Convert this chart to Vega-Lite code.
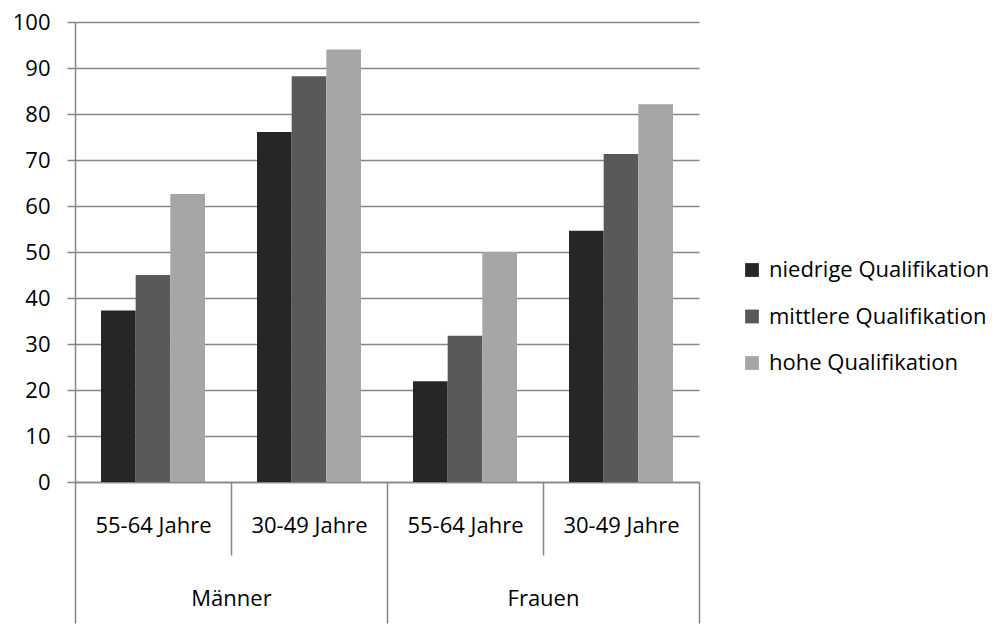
{
  "$schema": "https://vega.github.io/schema/vega-lite/v6.json",
  "width": 624,
  "height": 460,
  "autosize": {"type": "none"},
  "padding": {"left": 75, "top": 22, "right": 300, "bottom": 142},
  "background": "white",
  "config": {"view": {"stroke": null}, "font": "Open Sans"},
  "data": {
    "values": [
      {"cat": "Männer|55-64 Jahre", "gender": "Männer", "qual": "niedrige Qualifikation", "value": 37.3},
      {"cat": "Männer|55-64 Jahre", "gender": "Männer", "qual": "mittlere Qualifikation", "value": 45.0},
      {"cat": "Männer|55-64 Jahre", "gender": "Männer", "qual": "hohe Qualifikation", "value": 62.6},
      {"cat": "Männer|30-49 Jahre", "gender": "Männer", "qual": "niedrige Qualifikation", "value": 76.1},
      {"cat": "Männer|30-49 Jahre", "gender": "Männer", "qual": "mittlere Qualifikation", "value": 88.2},
      {"cat": "Männer|30-49 Jahre", "gender": "Männer", "qual": "hohe Qualifikation", "value": 94.0},
      {"cat": "Frauen|55-64 Jahre", "gender": "Frauen", "qual": "niedrige Qualifikation", "value": 21.9},
      {"cat": "Frauen|55-64 Jahre", "gender": "Frauen", "qual": "mittlere Qualifikation", "value": 31.8},
      {"cat": "Frauen|55-64 Jahre", "gender": "Frauen", "qual": "hohe Qualifikation", "value": 50.0},
      {"cat": "Frauen|30-49 Jahre", "gender": "Frauen", "qual": "niedrige Qualifikation", "value": 54.6},
      {"cat": "Frauen|30-49 Jahre", "gender": "Frauen", "qual": "mittlere Qualifikation", "value": 71.3},
      {"cat": "Frauen|30-49 Jahre", "gender": "Frauen", "qual": "hohe Qualifikation", "value": 82.1}
    ]
  },
  "layer": [
    {
      "mark": {"type": "bar"},
      "encoding": {
        "x": {
          "field": "cat", "type": "nominal", "sort": null,
          "scale": {"paddingInner": 0, "paddingOuter": 0},
          "axis": {
            "title": null, "orient": "bottom", "domainColor": "#868686", "domainWidth": 1.5,
            "tickColor": "#868686", "tickWidth": 1.5, "tickSize": 73, "tickBand": "extent",
            "labelExpr": "split(datum.label, '|')[1]", "labelFontSize": 22, "labelColor": "#000",
            "labelBaseline": "middle", "labelPadding": -30, "labelAngle": 0,
            "labelOverlap": false, "labelBound": false, "labelFlush": false, "labelFont": "Open Sans"
          }
        },
        "xOffset": {
          "field": "qual", "type": "nominal",
          "sort": ["niedrige Qualifikation", "mittlere Qualifikation", "hohe Qualifikation"],
          "scale": {"paddingInner": 0, "paddingOuter": 0.75}
        },
        "y": {
          "field": "value", "type": "quantitative",
          "scale": {"domain": [0, 100], "nice": false},
          "axis": {
            "title": null, "values": [0, 10, 20, 30, 40, 50, 60, 70, 80, 90, 100],
            "grid": true, "gridColor": "#868686", "gridWidth": 1.5,
            "domainColor": "#868686", "domainWidth": 1.5,
            "tickSize": 8, "tickColor": "#868686", "tickWidth": 1.5,
            "labelFontSize": 22, "labelPadding": 17, "labelColor": "#000", "labelFont": "Open Sans"
          }
        },
        "color": {
          "field": "qual", "type": "nominal",
          "sort": ["niedrige Qualifikation", "mittlere Qualifikation", "hohe Qualifikation"],
          "scale": {
            "domain": ["niedrige Qualifikation", "mittlere Qualifikation", "hohe Qualifikation"],
            "range": ["#262626", "#595959", "#a6a6a6"]
          },
          "legend": {
            "title": null, "orient": "none", "legendX": 666, "legendY": 237,
            "symbolType": "square", "symbolSize": 190, "symbolStrokeWidth": 0,
            "labelFontSize": 22, "labelOffset": 6, "rowPadding": 24.5, "labelColor": "#000",
            "padding": 0, "labelLimit": 400, "labelFont": "Open Sans"
          }
        }
      }
    },
    {
      "mark": {"type": "bar", "opacity": 0},
      "encoding": {
        "x": {
          "field": "gender", "type": "nominal", "sort": ["Männer", "Frauen"],
          "scale": {"paddingInner": 0, "paddingOuter": 0},
          "axis": {
            "title": null, "orient": "bottom", "domain": false, "offset": 73,
            "tickColor": "#868686", "tickWidth": 1.5, "tickSize": 68, "tickBand": "extent",
            "labelFontSize": 22, "labelColor": "#000", "labelBaseline": "middle",
            "labelPadding": -25, "labelAngle": 0, "labelOverlap": false,
            "labelBound": false, "labelFlush": false, "labelFont": "Open Sans"
          }
        },
        "y": {"datum": 0, "type": "quantitative"}
      }
    }
  ],
  "resolve": {"scale": {"x": "independent"}, "axis": {"x": "independent"}}
}
